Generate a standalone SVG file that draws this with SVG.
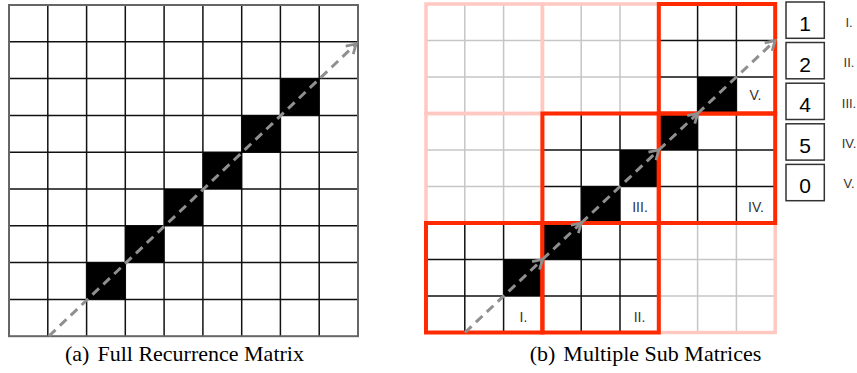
<svg xmlns="http://www.w3.org/2000/svg" xmlns:xlink="http://www.w3.org/1999/xlink" width="857" height="373" viewBox="0 0 857 373">
<style>
.cell{fill:#000}
.gridk{fill:none;stroke:#111;stroke-width:1.5}
.gridg{fill:none;stroke:#c6c6c6;stroke-width:1.5}
.pink{fill:none;stroke:#ffc9c2;stroke-width:3.5}
.red{fill:none;stroke:#ff2a00;stroke-width:4}
.lbl{font-family:"Liberation Sans",Arial,sans-serif;font-size:14px;fill:#333;text-anchor:middle}
.leg{font-family:"Liberation Sans",Arial,sans-serif;font-size:13px;fill:#333;text-anchor:middle}
.dig{font-family:"Liberation Sans",Arial,sans-serif;font-size:21px;fill:#000;text-anchor:middle}
.box{fill:#fff;stroke:#333;stroke-width:1.5}
.cap{font-family:"Liberation Serif","Times New Roman",serif;font-size:22px;fill:#000;text-anchor:middle}
.arr{fill:none;stroke:#8f8f8f;stroke-width:3;stroke-dasharray:9 6}
</style>
<defs>
<path id="g3" d="M38.8,0V109.5M77.6,0V109.5M0,36.5H116.4M0,73H116.4"/>
<marker id="ah" markerUnits="userSpaceOnUse" markerWidth="16" markerHeight="16" refX="11" refY="7" orient="auto">
<path d="M2,1.5L11,7L2,12.5" fill="none" stroke="#8f8f8f" stroke-width="2.8"/>
</marker>
</defs>
<rect width="857" height="373" fill="#fff"/>

<g id="full-matrix">
<path class="gridk" d="M47.8,5V336.2M86.6,5V336.2M125.3,5V336.2M164.1,5V336.2M202.9,5V336.2M241.7,5V336.2M280.4,5V336.2M319.2,5V336.2M9,41.8H358M9,78.6H358M9,115.4H358M9,152.2H358M9,189H358M9,225.8H358M9,262.6H358M9,299.4H358"/>
<rect class="cell" x="86.6" y="262.6" width="38.8" height="36.8"/>
<rect class="cell" x="125.3" y="225.8" width="38.8" height="36.8"/>
<rect class="cell" x="164.1" y="189" width="38.8" height="36.8"/>
<rect class="cell" x="202.9" y="152.2" width="38.8" height="36.8"/>
<rect class="cell" x="241.7" y="115.4" width="38.8" height="36.8"/>
<rect class="cell" x="280.4" y="78.6" width="38.8" height="36.8"/>
<rect x="9" y="5" width="349" height="331.2" fill="none" stroke="#666" stroke-width="2"/>
</g>

<g id="block-top-left">
<use xlink:href="#g3" x="426" y="4" class="gridg"/>
<rect class="pink" x="426" y="4" width="116.4" height="109.5"/>
</g>
<g id="block-top-middle">
<use xlink:href="#g3" x="542.4" y="4" class="gridg"/>
<rect class="pink" x="542.4" y="4" width="116.4" height="109.5"/>
</g>
<g id="block-middle-left">
<use xlink:href="#g3" x="426" y="113.5" class="gridg"/>
<rect class="pink" x="426" y="113.5" width="116.4" height="109.5"/>
</g>
<g id="block-bottom-right">
<use xlink:href="#g3" x="658.8" y="223" class="gridg"/>
<rect class="pink" x="658.8" y="223" width="116.4" height="109.5"/>
</g>

<g id="sub-I">
<use xlink:href="#g3" x="426" y="223" class="gridk"/>
<rect class="cell" x="503.6" y="259.5" width="38.8" height="36.5"/>
<rect class="red" x="426" y="223" width="116.4" height="109.5"/>
<text class="lbl" x="523.5" y="322">I.</text>
</g>
<g id="sub-II">
<use xlink:href="#g3" x="542.4" y="223" class="gridk"/>
<rect class="cell" x="542.4" y="223" width="38.8" height="36.5"/>
<rect class="red" x="542.4" y="223" width="116.4" height="109.5"/>
<text class="lbl" x="639.5" y="322">II.</text>
</g>
<g id="sub-III">
<use xlink:href="#g3" x="542.4" y="113.5" class="gridk"/>
<rect class="cell" x="581.2" y="186.5" width="38.8" height="36.5"/>
<rect class="cell" x="620" y="150" width="38.8" height="36.5"/>
<rect class="red" x="542.4" y="113.5" width="116.4" height="109.5"/>
<text class="lbl" x="640" y="212">III.</text>
</g>
<g id="sub-IV">
<use xlink:href="#g3" x="658.8" y="113.5" class="gridk"/>
<rect class="cell" x="658.8" y="113.5" width="38.8" height="36.5"/>
<rect class="red" x="658.8" y="113.5" width="116.4" height="109.5"/>
<text class="lbl" x="756" y="212">IV.</text>
</g>
<g id="sub-V">
<use xlink:href="#g3" x="658.8" y="4" class="gridk"/>
<rect class="cell" x="697.6" y="77" width="38.8" height="36.5"/>
<rect class="red" x="658.8" y="4" width="116.4" height="109.5"/>
<text class="lbl" x="755.5" y="100">V.</text>
</g>

<g id="connectors">
<path class="arr" d="M49,336L356,44" marker-end="url(#ah)"/>
<path class="arr" d="M465,332.5L542.4,259.5" marker-end="url(#ah)"/>
<path class="arr" d="M542.4,259.5L581.2,223" marker-end="url(#ah)"/>
<path class="arr" d="M581.2,223L658.8,150" marker-end="url(#ah)"/>
<path class="arr" d="M658.8,150L697.6,113.5" marker-end="url(#ah)"/>
<path class="arr" d="M697.6,113.5L775,40.7" marker-end="url(#ah)"/>
</g>

<g id="legend-1">
<rect class="box" x="786" y="2" width="38.3" height="36.3"/>
<text class="dig" x="805" y="31">1</text>
<text class="leg" x="849" y="27">I.</text>
</g>
<g id="legend-2">
<rect class="box" x="786" y="42.5" width="38.3" height="36.3"/>
<text class="dig" x="805" y="72">2</text>
<text class="leg" x="849" y="67">II.</text>
</g>
<g id="legend-3">
<rect class="box" x="786" y="83.2" width="38.3" height="36.3"/>
<text class="dig" x="805" y="112">4</text>
<text class="leg" x="849" y="108">III.</text>
</g>
<g id="legend-4">
<rect class="box" x="786" y="123.8" width="38.3" height="36.3"/>
<text class="dig" x="805" y="152.5">5</text>
<text class="leg" x="849" y="148">IV.</text>
</g>
<g id="legend-5">
<rect class="box" x="786" y="164.4" width="38.3" height="36.3"/>
<text class="dig" x="805" y="193">0</text>
<text class="leg" x="849" y="188">V.</text>
</g>

<g id="captions">
<text class="cap" x="184.5" y="361">(a)<tspan dx="8">Full Recurrence Matrix</tspan></text>
<text class="cap" x="645.5" y="361">(b)<tspan dx="8">Multiple Sub Matrices</tspan></text>
</g>
</svg>
